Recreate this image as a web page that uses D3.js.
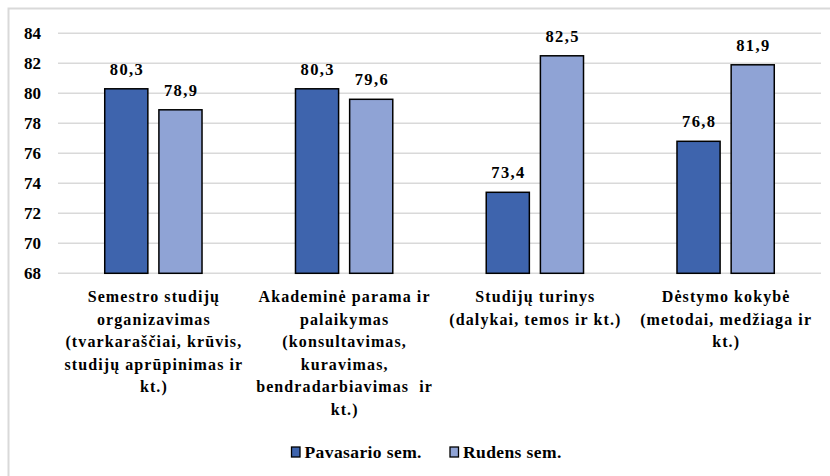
<!DOCTYPE html>
<html>
<head>
<meta charset="utf-8">
<script src="https://cdn.jsdelivr.net/npm/d3@7"></script>
<style>
  html, body { margin: 0; padding: 0; background: #fff; }
  svg { display: block; }
</style>
</head>
<body>
<svg id="chart" width="830" height="476"></svg>
<script>
// ---------- Data ----------
const categories = [
  ['Semestro studijų', 'organizavimas', '(tvarkaraščiai, krūvis,', 'studijų aprūpinimas ir', 'kt.)'],
  ['Akademinė parama ir', 'palaikymas', '(konsultavimas,', 'kuravimas,', 'bendradarbiavimas  ir', 'kt.)'],
  ['Studijų turinys', '(dalykai, temos ir kt.)'],
  ['Dėstymo kokybė', '(metodai, medžiaga ir', 'kt.)']
];
const seriesNames = ['Pavasario sem.', 'Rudens sem.'];
const springValues = [80.3, 80.3, 73.4, 76.8];
const autumnValues = [78.9, 79.6, 82.5, 81.9];
const yTicks = [68, 70, 72, 74, 76, 78, 80, 82, 84];
const colors = ['#3e64ad', '#8fa3d5'];

// ---------- Layout ----------
const svg = d3.select('#chart');
const plot = { left: 58, right: 821, top: 33.3, bottom: 273.3 };
const serif = "'Liberation Serif'";

// chart frame
svg.append('rect')
  .attr('x', 8.5).attr('y', 8.5)
  .attr('width', 840).attr('height', 490)
  .attr('fill', 'none')
  .attr('stroke', '#d9d9d9')
  .attr('stroke-width', 2);

const catIdx = categories.map((c, i) => i);
const x0 = d3.scaleBand()
  .domain(catIdx)
  .range([plot.left, plot.right])
  .paddingInner(0.49)
  .paddingOuter(0.245);

const x1 = d3.scaleBand()
  .domain([0, 1])
  .range([0, x0.bandwidth()])
  .paddingInner(0.204);

const y = d3.scaleLinear()
  .domain([68, 84])
  .range([plot.bottom, plot.top]);

// ---------- Gridlines ----------
svg.append('g')
  .selectAll('line')
  .data(yTicks)
  .join('line')
  .attr('x1', plot.left)
  .attr('x2', plot.right)
  .attr('y1', d => y(d))
  .attr('y2', d => y(d))
  .attr('stroke', '#d9d9d9')
  .attr('stroke-width', 1.5);

// y tick labels
svg.append('g')
  .selectAll('text')
  .data(yTicks)
  .join('text')
  .attr('x', 41)
  .attr('y', d => y(d) + 6)
  .attr('text-anchor', 'end')
  .attr('font-family', serif)
  .attr('font-weight', 'bold')
  .attr('font-size', 17)
  .attr('fill', '#000')
  .text(d => d);

// ---------- Bars ----------
const rows = catIdx.map(i => [
  { cat: i, s: 0, v: springValues[i] },
  { cat: i, s: 1, v: autumnValues[i] }
]);

const groups = svg.append('g')
  .selectAll('g')
  .data(rows)
  .join('g')
  .attr('transform', (d, i) => `translate(${x0(i)},0)`);

groups.selectAll('rect')
  .data(d => d)
  .join('rect')
  .attr('x', d => x1(d.s))
  .attr('y', d => y(d.v))
  .attr('width', x1.bandwidth())
  .attr('height', d => y(68) - y(d.v))
  .attr('fill', d => colors[d.s])
  .attr('stroke', '#000')
  .attr('stroke-width', 1.5);

// value labels
const fmt = v => d3.format('.1f')(v).replace('.', ',');
groups.selectAll('text')
  .data(d => d)
  .join('text')
  .attr('x', d => x1(d.s) + x1.bandwidth() / 2 + 0.75)
  .attr('y', d => y(d.v) - 14)
  .attr('text-anchor', 'middle')
  .attr('font-family', serif)
  .attr('font-weight', 'bold')
  .attr('font-size', 16.5)
  .attr('letter-spacing', 1.4)
  .attr('fill', '#000')
  .text(d => fmt(d.v));

// ---------- Category labels ----------
const catLabels = svg.append('g')
  .selectAll('text')
  .data(categories)
  .join('text')
  .attr('text-anchor', 'middle')
  .attr('font-family', serif)
  .attr('font-weight', 'bold')
  .attr('font-size', 16)
  .attr('letter-spacing', 1.1)
  .attr('fill', '#000');

catLabels.selectAll('tspan')
  .data((d, i) => d.map(line => ({ line, i })))
  .join('tspan')
  .attr('x', d => x0(d.i) + x0.bandwidth() / 2 + 0.5)
  .attr('y', (d, j) => 302 + j * 22.6)
  .style('white-space', 'pre')
  .text(d => d.line);

// ---------- Legend ----------
const legendX = [291.5, 450];
const legend = svg.append('g')
  .selectAll('g')
  .data(seriesNames)
  .join('g')
  .attr('transform', (d, i) => `translate(${legendX[i]},447)`);

legend.append('rect')
  .attr('x', 0).attr('y', 0)
  .attr('width', 8.5).attr('height', 10)
  .attr('fill', (d, i) => colors[i])
  .attr('stroke', '#000')
  .attr('stroke-width', 1.3);

legend.append('text')
  .attr('x', 13)
  .attr('y', 11)
  .attr('font-family', serif)
  .attr('font-weight', 'bold')
  .attr('font-size', 17.5)
  .attr('letter-spacing', 0.4)
  .attr('fill', '#000')
  .text(d => d);
</script>
</body>
</html>
